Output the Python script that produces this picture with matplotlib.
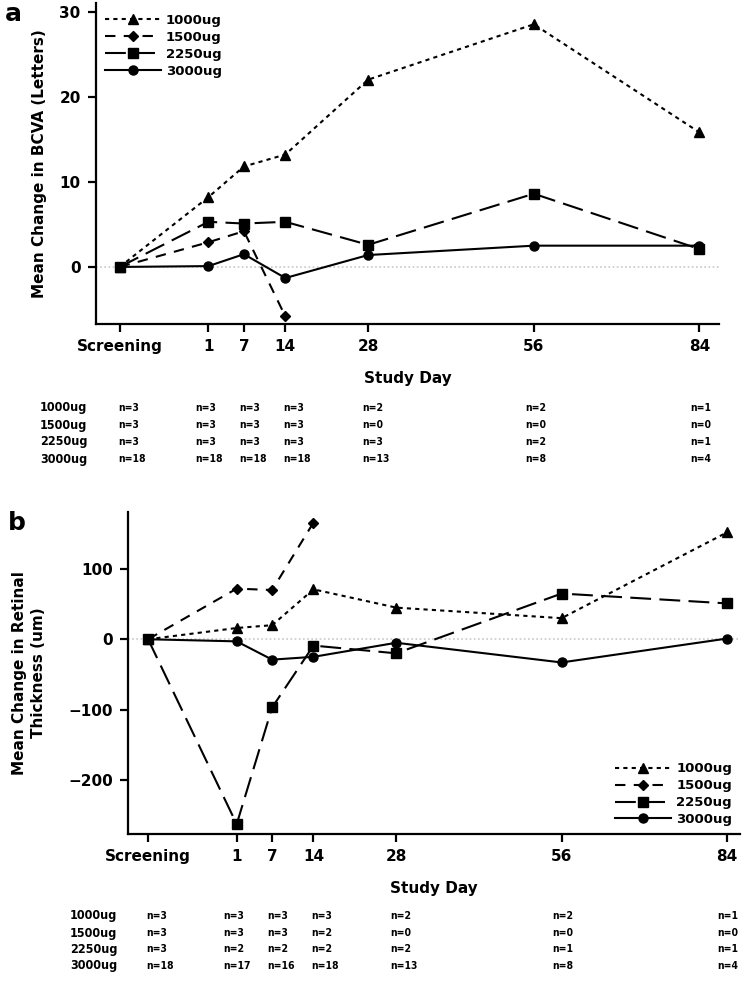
import matplotlib
matplotlib.use('Agg')
import matplotlib.pyplot as plt
from matplotlib.transforms import blended_transform_factory

# x positions (study day), screening drawn at day -14
days = [-14, 1, 7, 14, 28, 56, 84]
day_labels = ['Screening', '1', '7', '14', '28', '56', '84']
doses = ['1000ug', '1500ug', '2250ug', '3000ug']

# panel a: mean change in BCVA (letters)
bcva_1000 = [0, 8.2, 11.8, 13.2, 22.0, 28.5, 15.8]
bcva_1500 = [0, 2.9, 4.2, -5.8]
bcva_2250 = [0, 5.3, 5.1, 5.3, 2.6, 8.6, 2.1]
bcva_3000 = [0, 0.1, 1.5, -1.3, 1.4, 2.5, 2.5]

# panel b: mean change in retinal thickness (um)
rt_1000 = [0, 16, 20, 71, 45, 30, 152]
rt_1500 = [0, 72, 70, 166]
rt_2250 = [0, -263, -97, -9, -20, 65, 51]
rt_3000 = [0, -3, -29, -25, -5, -33, 1]

# number of subjects under each panel
n_a = {
    '1000ug': [3, 3, 3, 3, 2, 2, 1],
    '1500ug': [3, 3, 3, 3, 0, 0, 0],
    '2250ug': [3, 3, 3, 3, 3, 2, 1],
    '3000ug': [18, 18, 18, 18, 13, 8, 4],
}
n_b = {
    '1000ug': [3, 3, 3, 3, 2, 2, 1],
    '1500ug': [3, 3, 3, 2, 0, 0, 0],
    '2250ug': [3, 2, 2, 2, 2, 1, 1],
    '3000ug': [18, 17, 16, 18, 13, 8, 4],
}

styles = {
    '1000ug': dict(marker='^', linestyle=(0, (2, 2)), markersize=6.5),
    '1500ug': dict(marker='D', linestyle=(0, (5, 4)), markersize=5),
    '2250ug': dict(marker='s', linestyle=(0, (10, 4)), markersize=6.5),
    '3000ug': dict(marker='o', linestyle='-', markersize=6.5),
}

W, H = 743, 991
fig = plt.figure(figsize=(W / 100, H / 100), dpi=100)


def px_axes(l, r, t, b):
    return fig.add_axes([l / W, 1 - b / H, (r - l) / W, (b - t) / H])


def style_axes(ax, xlim, ylim, yticks):
    ax.set_xlim(*xlim)
    ax.set_ylim(*ylim)
    ax.spines['top'].set_visible(False)
    ax.spines['right'].set_visible(False)
    for s in ['left', 'bottom']:
        ax.spines[s].set_linewidth(1.6)
    ax.set_xticks(days)
    ax.set_xticklabels(day_labels)
    ax.set_yticks(yticks)
    ax.tick_params(direction='out', length=6, width=1.6, labelsize=11, pad=5)
    for lab in ax.get_xticklabels() + ax.get_yticklabels():
        lab.set_fontweight('bold')
    ax.axhline(0, color='#c8c8c8', linestyle=(0, (1, 1.5)), linewidth=1.2, zorder=0)
    ax.set_xlabel('Study Day', fontsize=11, fontweight='bold', labelpad=12)


def draw_table(ax, counts, label_x, row_ys):
    tr = blended_transform_factory(ax.transData, fig.transFigure)
    offsets = [-0.3, -2.2, -0.8, -0.3, -1.0, -1.5, -1.6]
    for dose, y in zip(doses, row_ys):
        fig.text(label_x / W, 1 - y / H, dose, fontsize=9, va='center', ha='left',
                 fontweight='semibold', fontstretch='condensed')
        for d, off, n in zip(days, offsets, counts[dose]):
            ax.text(d + off, 1 - y / H, f'n={n}', transform=tr, fontsize=7.5,
                    va='center', ha='left', fontweight='semibold', fontstretch='condensed')


# ---- panel a ----
ax1 = px_axes(96, 719, 3, 324)
for dose, vals in zip(doses, [bcva_1000, bcva_1500, bcva_2250, bcva_3000]):
    ax1.plot(days[:len(vals)], vals, color='black', linewidth=1.5, label=dose, **styles[dose])
style_axes(ax1, (-18, 87.3), (-6.7, 31), [0, 10, 20, 30])
ax1.set_ylabel('Mean Change in BCVA (Letters)', fontsize=11, fontweight='bold', labelpad=9)
ax1.legend(loc='upper left', bbox_to_anchor=(0.0, 0.995), frameon=False,
           prop={'size': 9.5, 'weight': 'bold'}, handlelength=4.2,
           handletextpad=0.4, labelspacing=0.3, borderaxespad=0.3)
fig.text(5 / W, 1 - 14 / H, 'a', fontsize=18, fontweight='bold', va='center', ha='left')
draw_table(ax1, n_a, 40, [408, 425, 442, 459])

# ---- panel b ----
ax2 = px_axes(128, 740, 512, 834)
for dose, vals in zip(doses, [rt_1000, rt_1500, rt_2250, rt_3000]):
    ax2.plot(days[:len(vals)], vals, color='black', linewidth=1.5, label=dose, **styles[dose])
style_axes(ax2, (-17.4, 86.2), (-277, 181), [-200, -100, 0, 100])
ax2.set_ylabel('Mean Change in Retinal\nThickness (um)', fontsize=11, fontweight='bold',
               labelpad=16, linespacing=1.3)
ax2.legend(loc='lower right', bbox_to_anchor=(1.0, 0.0), frameon=False,
           prop={'size': 9.5, 'weight': 'bold'}, handlelength=4.2,
           handletextpad=0.4, labelspacing=0.3, borderaxespad=0.2)
fig.text(8 / W, 1 - 523 / H, 'b', fontsize=18, fontweight='bold', va='center', ha='left')
draw_table(ax2, n_b, 70, [916, 933, 949, 966])

fig.savefig('out.png', dpi=100)
